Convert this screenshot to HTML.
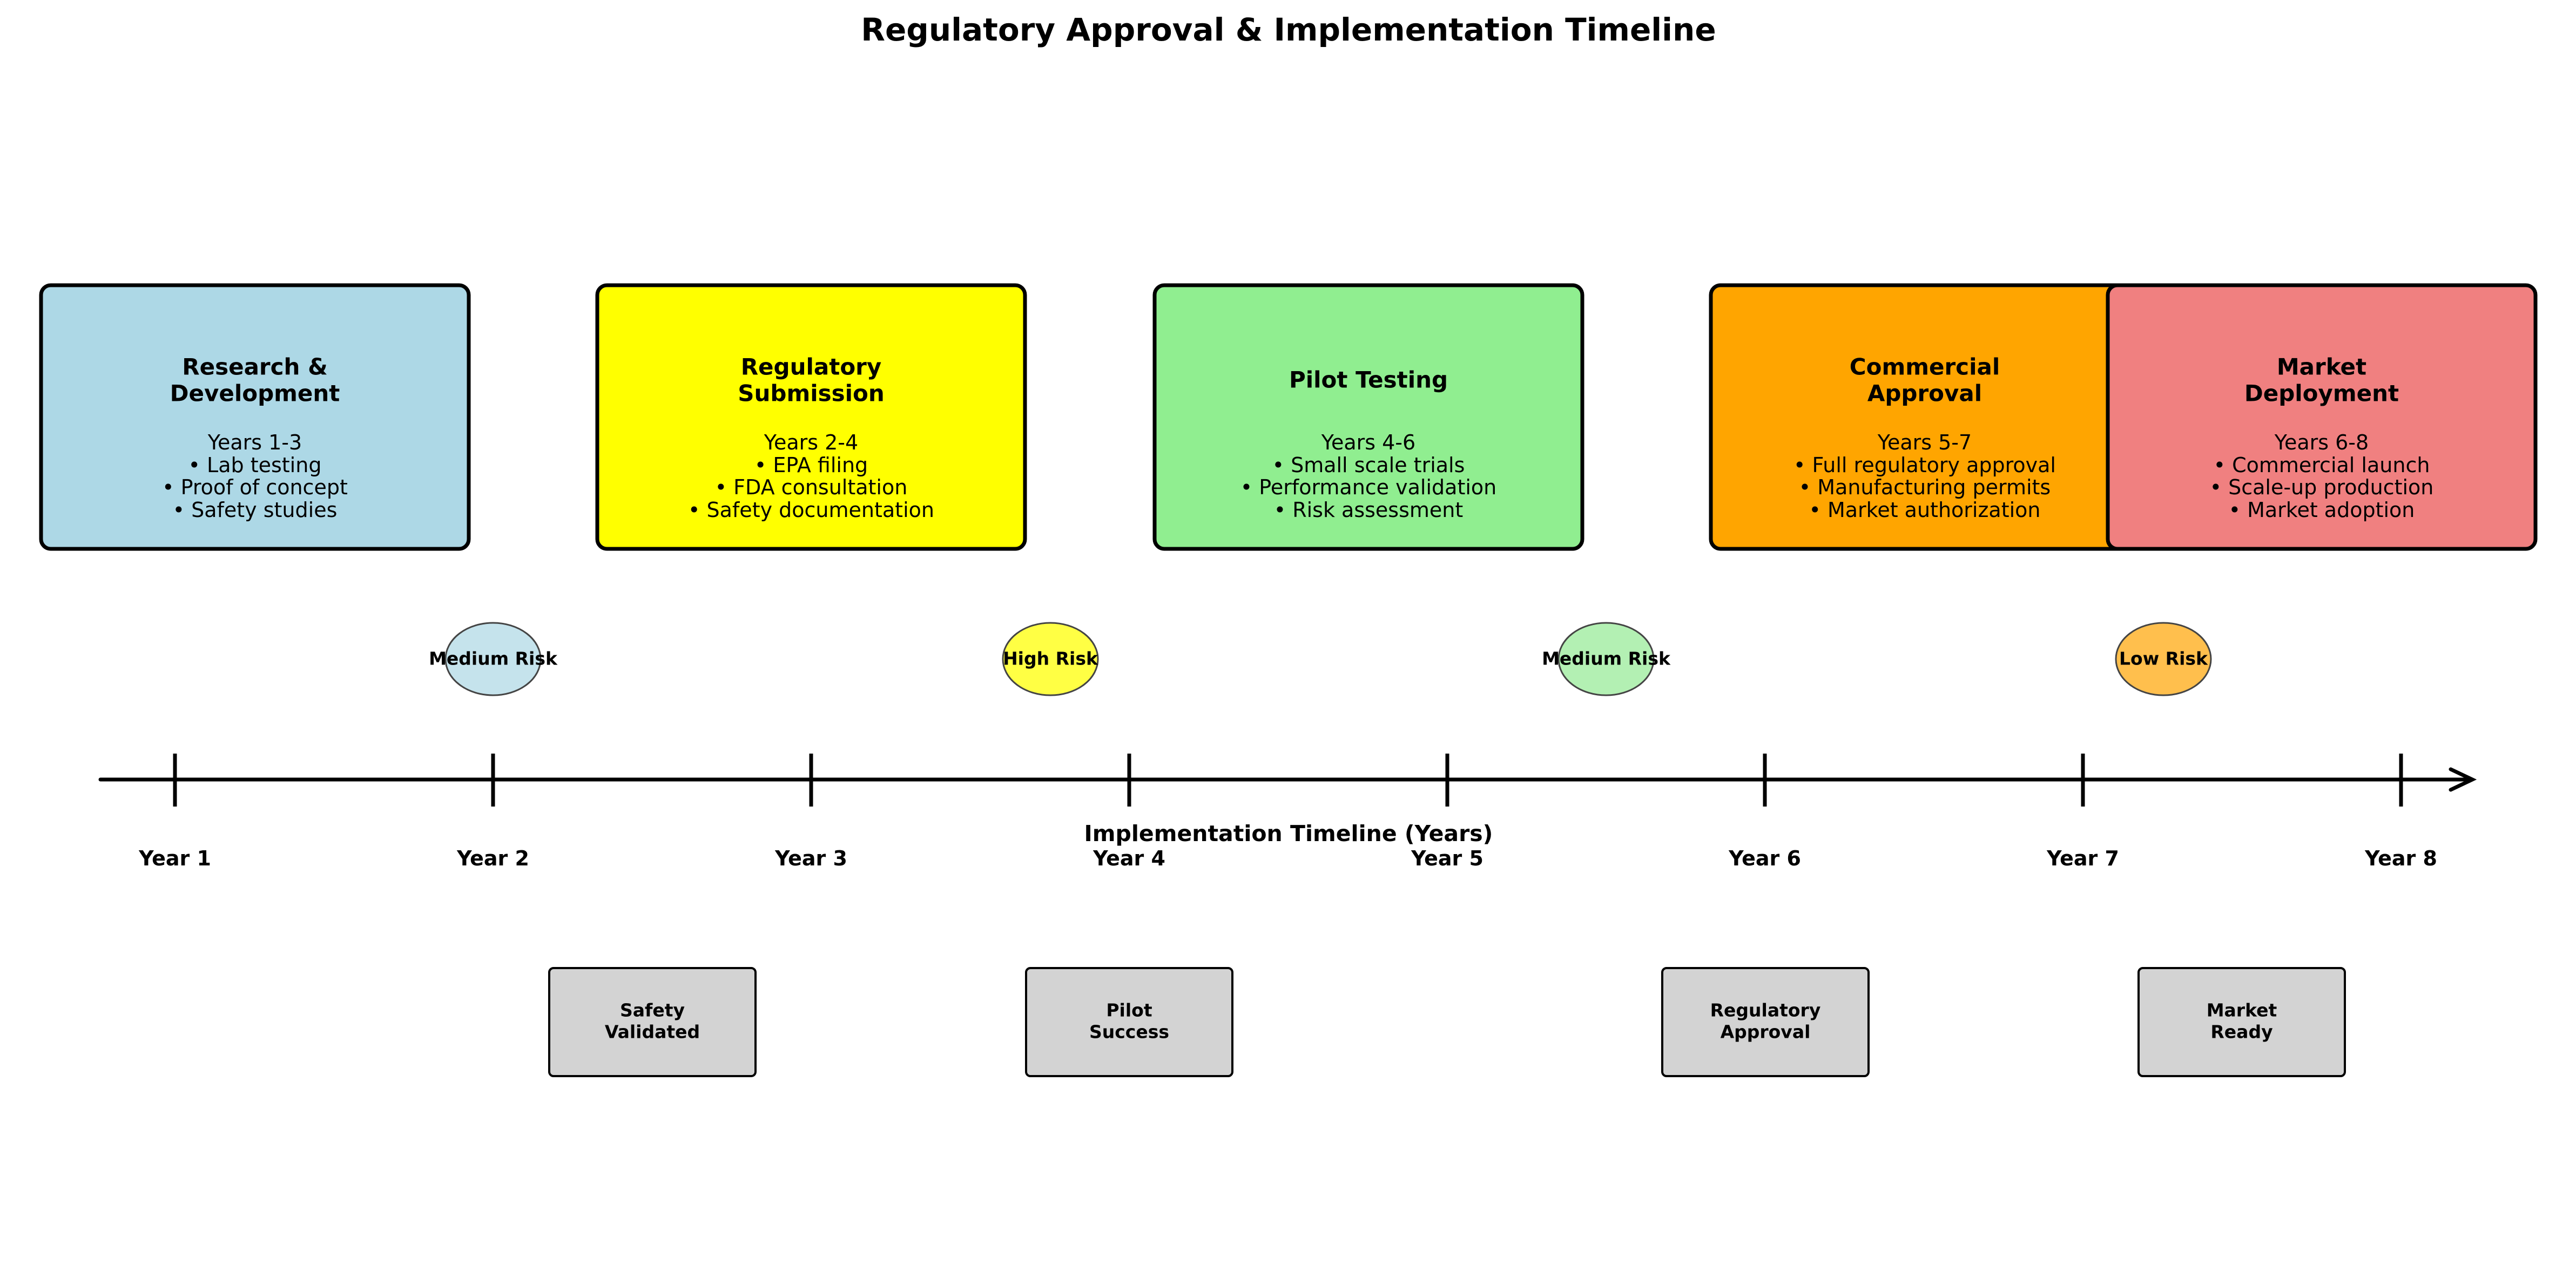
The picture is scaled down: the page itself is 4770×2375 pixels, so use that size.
<!DOCTYPE html>
<html><head><style>html,body{margin:0;padding:0;background:#fff}</style></head>
<body>
<svg xmlns="http://www.w3.org/2000/svg" width="4770" height="2370" viewBox="0 0 4770 2370" font-family="DejaVu Sans, Liberation Sans, sans-serif">
<rect width="4770" height="2370" fill="#fff"/>
<text x="2386" y="55" font-size="58" font-weight="bold" text-anchor="middle" dominant-baseline="central">Regulatory Approval &amp; Implementation Timeline</text>

<g stroke="#000" stroke-width="7">
<rect x="76" y="528" width="792" height="488" rx="18" fill="#add8e6"/>
<rect x="1106" y="528" width="792" height="488" rx="18" fill="#ffff00"/>
<rect x="2138" y="528" width="792" height="488" rx="18" fill="#90ee90"/>
<rect x="3168" y="528" width="792" height="488" rx="18" fill="#ffa500"/>
<rect x="3903" y="528" width="792" height="488" rx="18" fill="#f08080"/>
</g>

<g text-anchor="middle" dominant-baseline="central">
<g font-size="42" font-weight="bold">
<text x="472" y="679">Research &amp;</text><text x="472" y="728">Development</text>
<text x="1502" y="679">Regulatory</text><text x="1502" y="728">Submission</text>
<text x="2534" y="703">Pilot Testing</text>
<text x="3564" y="679">Commercial</text><text x="3564" y="728">Approval</text>
<text x="4299" y="679">Market</text><text x="4299" y="728">Deployment</text>
</g>
<g font-size="38">
<text x="472" y="819">Years 1-3</text><text x="472" y="861">• Lab testing</text><text x="472" y="902">• Proof of concept</text><text x="472" y="944">• Safety studies</text>
<text x="1502" y="819">Years 2-4</text><text x="1502" y="861">• EPA filing</text><text x="1502" y="902">• FDA consultation</text><text x="1502" y="944">• Safety documentation</text>
<text x="2534" y="819">Years 4-6</text><text x="2534" y="861">• Small scale trials</text><text x="2534" y="902">• Performance validation</text><text x="2534" y="944">• Risk assessment</text>
<text x="3564" y="819">Years 5-7</text><text x="3564" y="861">• Full regulatory approval</text><text x="3564" y="902">• Manufacturing permits</text><text x="3564" y="944">• Market authorization</text>
<text x="4299" y="819">Years 6-8</text><text x="4299" y="861">• Commercial launch</text><text x="4299" y="902">• Scale-up production</text><text x="4299" y="944">• Market adoption</text>
</g>
</g>

<g stroke="#444" stroke-width="3">
<ellipse cx="913" cy="1220" rx="88" ry="67" fill="#c5e3ec"/>
<ellipse cx="1945" cy="1220" rx="88" ry="67" fill="#ffff44"/>
<ellipse cx="2974" cy="1220" rx="88" ry="67" fill="#b3f0b3"/>
<ellipse cx="4006" cy="1220" rx="88" ry="67" fill="#ffbf4d"/>
</g>
<g font-size="33" font-weight="bold" text-anchor="middle" dominant-baseline="central">
<text x="913" y="1219">Medium Risk</text>
<text x="1945" y="1219">High Risk</text>
<text x="2974" y="1219">Medium Risk</text>
<text x="4006" y="1219">Low Risk</text>
</g>

<g stroke="#000" stroke-width="7" fill="none" stroke-linecap="round">
<line x1="186" y1="1443" x2="4576" y2="1443"/>
<polyline points="4538,1424 4578,1443 4538,1462"/>
</g>
<g stroke="#000" stroke-width="7">
<line x1="324" y1="1395" x2="324" y2="1493"/>
<line x1="913" y1="1395" x2="913" y2="1493"/>
<line x1="1502" y1="1395" x2="1502" y2="1493"/>
<line x1="2091" y1="1395" x2="2091" y2="1493"/>
<line x1="2680" y1="1395" x2="2680" y2="1493"/>
<line x1="3268" y1="1395" x2="3268" y2="1493"/>
<line x1="3857" y1="1395" x2="3857" y2="1493"/>
<line x1="4446" y1="1395" x2="4446" y2="1493"/>
</g>
<g font-size="38" font-weight="bold" text-anchor="middle" dominant-baseline="central">
<text x="2386" y="1543" font-size="41">Implementation Timeline (Years)</text>
<text x="324" y="1589">Year 1</text>
<text x="913" y="1589">Year 2</text>
<text x="1502" y="1589">Year 3</text>
<text x="2091" y="1589">Year 4</text>
<text x="2680" y="1589">Year 5</text>
<text x="3268" y="1589">Year 6</text>
<text x="3857" y="1589">Year 7</text>
<text x="4446" y="1589">Year 8</text>
</g>

<g stroke="#000" stroke-width="4" fill="#d3d3d3">
<rect x="1017" y="1792" width="382" height="200" rx="8"/>
<rect x="1900" y="1792" width="382" height="200" rx="8"/>
<rect x="3078" y="1792" width="382" height="200" rx="8"/>
<rect x="3960" y="1792" width="382" height="200" rx="8"/>
</g>
<g font-size="33" font-weight="bold" text-anchor="middle" dominant-baseline="central">
<text x="1208" y="1870">Safety</text><text x="1208" y="1910">Validated</text>
<text x="2091" y="1870">Pilot</text><text x="2091" y="1910">Success</text>
<text x="3269" y="1870">Regulatory</text><text x="3269" y="1910">Approval</text>
<text x="4151" y="1870">Market</text><text x="4151" y="1910">Ready</text>
</g>
</svg>
</body></html>
